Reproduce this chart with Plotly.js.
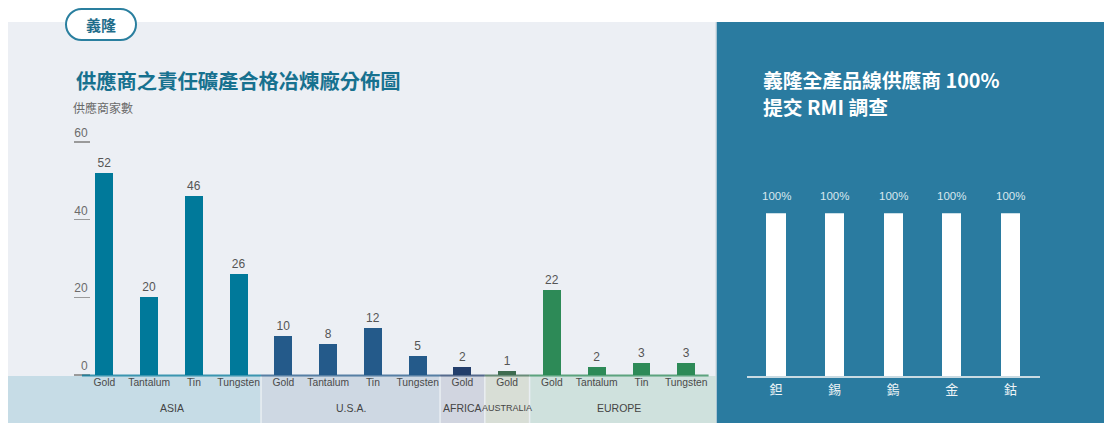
<!DOCTYPE html>
<html>
<head>
<meta charset="utf-8">
<script src="https://cdn.plot.ly/plotly-3.0.1.min.js"></script>
<style>html,body{margin:0;padding:0;background:#fff;}#chart{width:1104px;height:423px;}</style>
</head>
<body>
<div id="chart"></div>
<script>
// ---- Data ----
const categories = ['Gold','Tantalum','Tin','Tungsten','Gold','Tantalum','Tin','Tungsten','Gold','Gold','Gold','Tantalum','Tin','Tungsten'];
const regionOf = ['ASIA','ASIA','ASIA','ASIA','U.S.A.','U.S.A.','U.S.A.','U.S.A.','AFRICA','AUSTRALIA','EUROPE','EUROPE','EUROPE','EUROPE'];
const counts = [52,20,46,26,10,8,12,5,2,1,22,2,3,3];
const regionNames = ['ASIA','U.S.A.','AFRICA','AUSTRALIA','EUROPE'];
const yTicks = [0,20,40,60];
const rmiMetals = ['鉭','錫','鎢','金','鈷'];
const rmiPct = [100,100,100,100,100];

// ---- Styles ----
const barColors = {'ASIA':'#00799a','U.S.A.':'#245a8a','AFRICA':'#233e6b','AUSTRALIA':'#3e6c50','EUROPE':'#2d8a57'};
const bandColors = {'ASIA':'#c6dce6','U.S.A.':'#ced8e3','AFRICA':'#d1d5e0','AUSTRALIA':'#d8ded6','EUROPE':'#cfe1dd'};
const W = 1104, H = 423;
const PX = x => x / W, PY = y => 1 - y / H;
const latin = 'Liberation Sans, Arial, sans-serif';
const cjk = 'Noto Sans CJK TC, Noto Sans CJK SC, sans-serif';

const xDom = [PX(82), PX(708.6)], xRange = [-0.5, categories.length - 0.5];
const toPaperX = v => xDom[0] + (v - xRange[0]) / (xRange[1] - xRange[0]) * (xDom[1] - xDom[0]);

const idx = categories.map((_, i) => i);
const traces = [];
regionNames.forEach(r => {
  const xs = [], ys = [];
  idx.forEach(i => { if (regionOf[i] === r) { xs.push(i); ys.push(counts[i]); } });
  traces.push({
    type: 'bar', x: xs, y: ys, xaxis: 'x', yaxis: 'y', width: 0.4,
    marker: {color: barColors[r], line: {width: 0}},
    text: ys.map(String), textposition: 'outside', cliponaxis: false,
    textfont: {family: latin, size: 12, color: '#555'}, hoverinfo: 'skip'
  });
});
traces.push({
  type: 'bar', x: rmiMetals.map((_, i) => i), y: rmiPct, xaxis: 'x2', yaxis: 'y2', width: 0.33,
  marker: {color: '#ffffff', line: {width: 0}}, hoverinfo: 'skip'
});

// ---- Shapes ----
const shapes = [];
shapes.push({type:'rect', xref:'paper', yref:'paper', x0:PX(8), x1:PX(716), y0:0, y1:PY(22), fillcolor:'#eceff4', line:{width:0}, layer:'below'});
shapes.push({type:'rect', xref:'paper', yref:'paper', x0:PX(716), x1:1, y0:0, y1:PY(22), fillcolor:'#2a7ba0', line:{width:0}, layer:'below'});
shapes.push({type:'line', xref:'paper', yref:'paper', x0:PX(716), x1:PX(716), y0:0, y1:PY(22), line:{color:'#d6dde3', width:1.5}, layer:'below'});
regionNames.forEach((r, k) => {
  const ids = idx.filter(i => regionOf[i] === r);
  const lo = Math.min(...ids) - 0.5, hi = Math.max(...ids) + 0.5;
  const bx0 = k === 0 ? PX(8) : toPaperX(lo);
  const bx1 = k === regionNames.length - 1 ? PX(716) : toPaperX(hi);
  shapes.push({type:'rect', xref:'paper', yref:'paper', x0:bx0, x1:bx1, y0:0, y1:PY(376), fillcolor:bandColors[r], line:{width:0}, layer:'below'});
  if (k > 0) shapes.push({type:'line', xref:'paper', yref:'paper', x0:bx0, x1:bx0, y0:0, y1:PY(376), line:{color:'#e9eef2', width:1.5}, layer:'below'});
  shapes.push({type:'line', xref:'paper', yref:'paper', x0:toPaperX(lo), x1:toPaperX(hi), y0:PY(375.5), y1:PY(375.5), line:{color:barColors[r], width:2}, opacity:0.75});
});
(function(){
  const x0=66, x1=136, y0=9, y1=40, r=15.5;
  const p = (x,y) => PX(x) + ',' + PY(y);
  const path = 'M' + p(x0+r,y0) + ' L' + p(x1-r,y0) + ' C' + p(x1-r+8.5,y0) + ' ' + p(x1,y0+7) + ' ' + p(x1,y0+r) +
    ' C' + p(x1,y1-7) + ' ' + p(x1-r+8.5,y1) + ' ' + p(x1-r,y1) + ' L' + p(x0+r,y1) +
    ' C' + p(x0+r-8.5,y1) + ' ' + p(x0,y1-7) + ' ' + p(x0,y0+r) + ' C' + p(x0,y0+7) + ' ' + p(x0+r-8.5,y0) + ' ' + p(x0+r,y0) + ' Z';
  shapes.push({type:'path', xref:'paper', yref:'paper', path:path, fillcolor:'#ffffff', line:{color:'#2a7f9f', width:2}, layer:'below'});
})();

// ---- Annotations ----
const annotations = [];
const ann = o => annotations.push(Object.assign({xref:'paper', yref:'paper', showarrow:false, xanchor:'center', yanchor:'middle'}, o));
ann({x:PX(101), y:PY(25), text:'<b>義隆</b>', font:{family:cjk, size:15, color:'#1f6d8a'}});
ann({x:PX(74), y:PY(80), xanchor:'left', text:'<b>供應商之責任礦產合格冶煉廠分佈圖</b>', font:{family:cjk, size:20.3, color:'#17718f'}});
ann({x:PX(71), y:PY(108), xanchor:'left', text:'供應商家數', font:{family:cjk, size:12, color:'#6a6a6a'}});
ann({x:PX(761), y:PY(79.5), xanchor:'left', text:'<b>義隆全產品線供應商 100%</b>', font:{family:cjk, size:19.8, color:'#ffffff'}});
ann({x:PX(761), y:PY(106.5), xanchor:'left', text:'<b>提交 RMI 調查</b>', font:{family:cjk, size:19.8, color:'#ffffff'}});
regionNames.forEach(r => {
  const ids = idx.filter(i => regionOf[i] === r);
  const mid = (Math.min(...ids) + Math.max(...ids)) / 2;
  ann({x:toPaperX(mid), y:PY(408), text:r, font:{family:latin, size: r === 'AUSTRALIA' ? 9 : 10.5, color:'#444'}});
});
rmiPct.forEach((v, i) => {
  ann({xref:'x2', yref:'y2', x:i, y:v, yanchor:'bottom', yshift:9, text:v + '%', font:{family:latin, size:11.5, color:'#d9e7ee'}});
});

const layout = {
  width: W, height: H, margin:{l:0, r:0, t:0, b:0},
  paper_bgcolor:'#ffffff', plot_bgcolor:'rgba(0,0,0,0)', showlegend:false,
  xaxis:{domain:xDom, range:xRange, anchor:'y', tickmode:'array', tickvals:idx, ticktext:categories,
    showgrid:false, zeroline:false, showline:false, ticks:'', tickfont:{family:latin, size:10.3, color:'#4a4a4a'}, fixedrange:true},
  yaxis:{domain:[PY(375), PY(142)], range:[0,60], anchor:'free', position:PX(90), tickmode:'array', tickvals:yTicks,
    ticks:'outside', ticklen:16, tickwidth:1.5, tickcolor:'#9a9a9a', ticklabelposition:'outside top',
    showgrid:false, zeroline:false, showline:false, tickfont:{family:latin, size:12, color:'#6b6b6b'}, fixedrange:true},
  xaxis2:{domain:[PX(746.7), PX(1039.7)], range:[-0.5,4.5], anchor:'y2', tickmode:'array', tickvals:rmiMetals.map((_,i)=>i), ticktext:rmiMetals,
    showgrid:false, zeroline:false, showline:true, linecolor:'#c9dbe3', linewidth:2, ticks:'',
    tickfont:{family:cjk, size:13, color:'#eef4f7'}, fixedrange:true},
  yaxis2:{domain:[PY(376), PY(213.3)], range:[0,100], anchor:'x2', visible:false, fixedrange:true},
  shapes: shapes, annotations: annotations, bargap: 0
};
Plotly.newPlot('chart', traces, layout, {displayModeBar:false, staticPlot:true});
</script>
</body>
</html>
